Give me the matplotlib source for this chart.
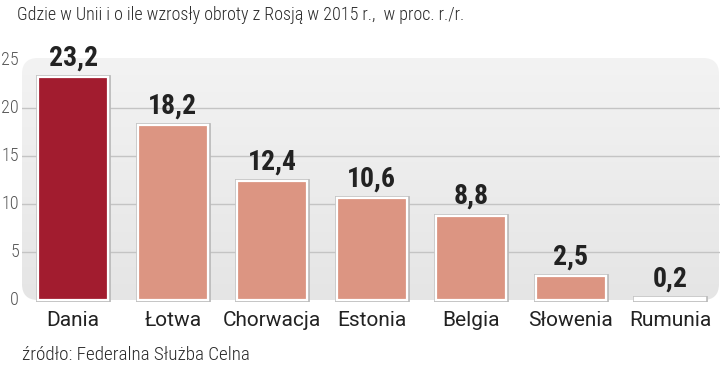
import matplotlib

matplotlib.use("Agg")
import matplotlib.pyplot as plt
import numpy as np
from matplotlib import patheffects
from matplotlib.colors import LinearSegmentedColormap
from matplotlib.patches import FancyBboxPatch

countries = ["Dania", "Łotwa", "Chorwacja", "Estonia", "Belgia", "Słowenia", "Rumunia"]
growth = [23.2, 18.2, 12.4, 10.6, 8.8, 2.5, 0.2]
value_labels = ["23,2", "18,2", "12,4", "10,6", "8,8", "2,5", "0,2"]
y_ticks = [0, 5, 10, 15, 20, 25]

TITLE = "Gdzie w Unii i o ile wzrosły obroty z Rosją w 2015 r.,  w proc. r./r."
SOURCE = "źródło: Federalna Służba Celna"

COND = "Roboto Condensed"
HIGHLIGHT = "#a21c2f"
OTHER = "#dc9582"
TEXT = "#222222"

fig = plt.figure(figsize=(7.2, 3.69), dpi=100)

ax = fig.add_axes([22 / 720, 0.1805, 698 / 720, 0.662])
ax.set_facecolor("none")

# panel background: rounded grey box with a soft vertical gradient (in inches)
bg = FancyBboxPatch(
    (0.22, 0.69), 6.97, 2.42,
    boxstyle="round,pad=0,rounding_size=0.16",
    transform=fig.dpi_scale_trans, facecolor="none", edgecolor="none",
)
grad_cmap = LinearSegmentedColormap.from_list("panel", ["#e5e5e5", "#f3f3f3"])
grad = ax.imshow(np.linspace(0, 1, 256).reshape(-1, 1), cmap=grad_cmap, aspect="auto",
                 origin="lower", extent=(-0.515, 6.5, -0.25, 25.2), zorder=0)
grad.set_clip_path(bg)
ax.set_xlim(-0.515, 6.5)
ax.set_ylim(-0.25, 25.2)

for y in y_ticks[1:-1]:
    ax.axhline(y, color="#c4c4c4", linewidth=1.0, zorder=1)

colors = [HIGHLIGHT] + [OTHER] * (len(countries) - 1)
bars = ax.bar(range(len(countries)), growth, width=0.70, color=colors,
              edgecolor="white", linewidth=1.6, zorder=2)
for bar in bars:
    bar.set_path_effects([patheffects.withStroke(linewidth=3.4, foreground="#b9b9b9"),
                          patheffects.Normal()])

for i, (v, lab) in enumerate(zip(growth, value_labels)):
    ax.annotate(lab, (i, v), xytext=(0, 4), textcoords="offset points",
                ha="center", va="bottom", fontsize=20, fontweight="bold",
                family=COND, color=TEXT)

ax.set_xticks(range(len(countries)))
ax.set_xticklabels(countries, fontsize=15, family="Roboto", color=TEXT)
ax.set_yticks([])
ax.tick_params(axis="x", length=0, pad=6)
for side in ax.spines.values():
    side.set_visible(False)

# y tick labels sit in the narrow margin left of the panel
for t in y_ticks:
    ax.text(-3 / 698, t, str(t), transform=ax.get_yaxis_transform(), ha="right",
            va="center", fontsize=13, family=COND, fontweight="light", color="#555555")

fig.text(17 / 720, 1 - 15 / 369, TITLE, ha="left", va="center", fontsize=13,
         family=COND, fontweight="light", color="#2a2a2a")
fig.text(22 / 720, 1 - 355 / 369, SOURCE, ha="left", va="center", fontsize=13.8,
         family=COND, fontweight="light", color="#2a2a2a")

fig.savefig("out.png", dpi=100)
